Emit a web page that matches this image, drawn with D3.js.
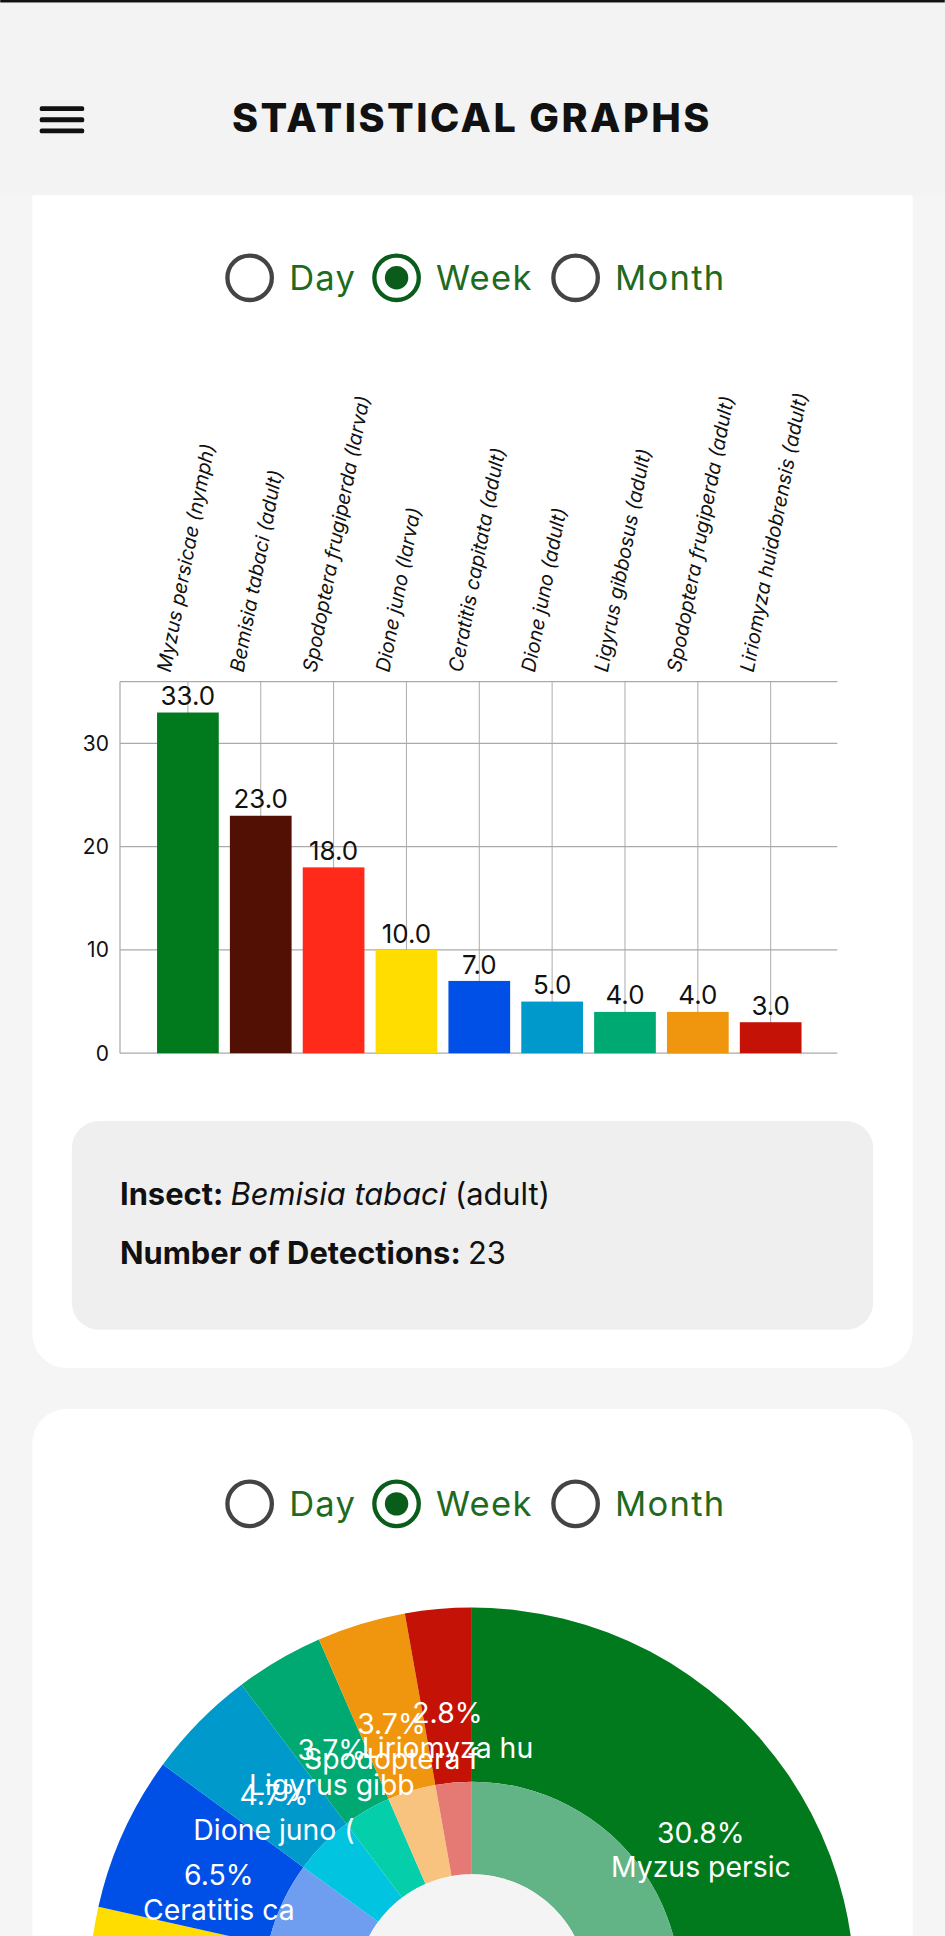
<!DOCTYPE html>
<html>
<head>
<meta charset="utf-8">
<script src="https://cdn.jsdelivr.net/npm/d3@7"></script>
<style>
  html, body { margin: 0; padding: 0; background: #f5f5f5; }
  svg { display: block; font-family: Inter, "Open Sans", sans-serif; }
</style>
</head>
<body>
<svg id="page" width="945" height="1936" viewBox="0 0 765 1568"></svg>
<script>
const insects = [
  "Myzus persicae (nymph)",
  "Bemisia tabaci (adult)",
  "Spodoptera frugiperda (larva)",
  "Dione juno (larva)",
  "Ceratitis capitata (adult)",
  "Dione juno (adult)",
  "Ligyrus gibbosus (adult)",
  "Spodoptera frugiperda (adult)",
  "Liriomyza huidobrensis (adult)",
];
const detections = [33, 23, 18, 10, 7, 5, 4, 4, 3];
const colors = ["#007a1c", "#521005", "#ff2a1a", "#ffdd00", "#0050e8", "#0099cc", "#00a872", "#f0960e", "#c41206"];
const innerColors = ["#62b486", "#a07870", "#ff8a80", "#ffec80", "#6f9ef0", "#00c4e0", "#05cfaa", "#f8c27f", "#e57a75"];
const yTicks = [0, 10, 20, 30];
const periods = ["Day", "Week", "Month"];
const selected = "Week";

const svg = d3.select("#page");
const green = "#1e6a1e";

// cards
svg.append("rect").attr("x", 26).attr("y", 110).attr("width", 713).attr("height", 998).attr("rx", 28).attr("fill", "#fff");
svg.append("rect").attr("x", 26).attr("y", 1141).attr("width", 713).attr("height", 600).attr("rx", 28).attr("fill", "#fff");

// header
svg.append("rect").attr("x", 0).attr("y", 0).attr("width", 765).attr("height", 158).attr("fill", "#f3f3f3");
svg.append("rect").attr("x", 0).attr("y", 0).attr("width", 765).attr("height", 2).attr("fill", "#111");
[88, 97, 106].forEach((y) =>
  svg.append("rect").attr("x", 32).attr("y", y - 2).attr("width", 36).attr("height", 4).attr("rx", 1.5).attr("fill", "#111"));
svg.append("text").attr("x", 382).attr("y", 107).attr("text-anchor", "middle")
  .attr("font-size", 32).attr("font-weight", 800).attr("letter-spacing", 2).attr("fill", "#111").text("STATISTICAL GRAPHS");

function radios(cy) {
  const xs = [202, 321, 466];
  periods.forEach((p, i) => {
    svg.append("circle").attr("cx", xs[i]).attr("cy", cy).attr("r", 18)
      .attr("fill", "none").attr("stroke", p === selected ? "#0a5c1a" : "#444").attr("stroke-width", 3.5);
    if (p === selected) svg.append("circle").attr("cx", xs[i]).attr("cy", cy).attr("r", 9.5).attr("fill", "#0a5c1a");
    svg.append("text").attr("x", xs[i] + 32).attr("y", cy + 10).attr("font-size", 28)
      .attr("letter-spacing", 1).attr("fill", green).text(p);
  });
}
radios(225);
radios(1218);

// bar chart
const x = d3.scaleBand().domain(insects).range([122.5, 653.5]).paddingInner(0.153).paddingOuter(0.0765);
const y = d3.scaleLinear().domain([0, 36]).range([853, 552]);
const g = svg.append("g");
const grid = "#aaa";
g.selectAll(".hg").data(yTicks.concat([36])).join("line")
  .attr("x1", 97).attr("x2", 678).attr("y1", (d) => y(d)).attr("y2", (d) => y(d))
  .attr("stroke", grid).attr("stroke-width", 1);
g.selectAll(".vg").data(insects).join("line")
  .attr("x1", (d) => x(d) + x.bandwidth() / 2).attr("x2", (d) => x(d) + x.bandwidth() / 2)
  .attr("y1", y(36)).attr("y2", y(0)).attr("stroke", grid).attr("stroke-width", 0.8);
g.append("line").attr("x1", 97).attr("x2", 97).attr("y1", y(36)).attr("y2", y(0)).attr("stroke", grid);

g.selectAll(".bar").data(detections).join("rect")
  .attr("x", (d, i) => x(insects[i])).attr("width", x.bandwidth())
  .attr("y", (d) => y(d)).attr("height", (d) => y(0) - y(d)).attr("fill", (d, i) => colors[i]);
g.selectAll(".val").data(detections).join("text")
  .attr("x", (d, i) => x(insects[i]) + x.bandwidth() / 2).attr("y", (d) => y(d) - 6)
  .attr("text-anchor", "middle").attr("font-size", 21).attr("fill", "#111").text((d) => d.toFixed(1));

const yAxis = g.append("g").attr("transform", "translate(97,0)")
  .call(d3.axisLeft(y).tickValues(yTicks).tickSize(0).tickPadding(9));
yAxis.select(".domain").remove();
yAxis.selectAll("text").attr("font-size", 17).attr("fill", "#111").attr("font-family", "Inter, sans-serif");

g.selectAll(".xl").data(insects).join("text")
  .attr("transform", (d) => `translate(${x(d) + x.bandwidth() / 2 - 14},545) rotate(-79)`)
  .attr("font-size", 16).attr("font-style", "italic").attr("fill", "#111").text((d) => d);

// info box
svg.append("rect").attr("x", 58).attr("y", 908).attr("width", 649).attr("height", 169).attr("rx", 22).attr("fill", "#efefef");
const t1 = svg.append("text").attr("x", 97).attr("y", 976).attr("font-size", 25).attr("fill", "#111");
t1.append("tspan").attr("font-weight", 700).text("Insect: ");
t1.append("tspan").attr("font-style", "italic").text("Bemisia tabaci");
t1.append("tspan").text(" (adult)");
const t2 = svg.append("text").attr("x", 97).attr("y", 1024).attr("font-size", 25).attr("fill", "#111");
t2.append("tspan").attr("font-weight", 700).text("Number of Detections: ");
t2.append("tspan").text(detections[1]);

// pie
const total = d3.sum(detections);
const pie = d3.pie().sort(null)(detections);
const pg = svg.append("g").attr("transform", "translate(382,1612)");
const outer = d3.arc().innerRadius(169).outerRadius(310);
const inner = d3.arc().innerRadius(94).outerRadius(169);
pg.selectAll(".o").data(pie).join("path").attr("d", outer).attr("fill", (d, i) => colors[i]);
pg.selectAll(".i").data(pie).join("path").attr("d", inner).attr("fill", (d, i) => innerColors[i]);
pg.append("circle").attr("r", 94).attr("fill", "#f4f4f4");
const lab = d3.arc().innerRadius(225).outerRadius(225);
const lg = pg.selectAll(".lab").data(pie).join("g").attr("transform", (d) => `translate(${lab.centroid(d)})`);
lg.append("text").attr("text-anchor", "middle").attr("dy", 8).attr("font-size", 23).attr("fill", "#fff")
  .text((d) => (d.value / total * 100).toFixed(1) + "%");
lg.append("text").attr("text-anchor", "middle").attr("dy", 36).attr("font-size", 23).attr("fill", "#fff")
  .text((d, i) => insects[i].slice(0, 12));
</script>
</body>
</html>
